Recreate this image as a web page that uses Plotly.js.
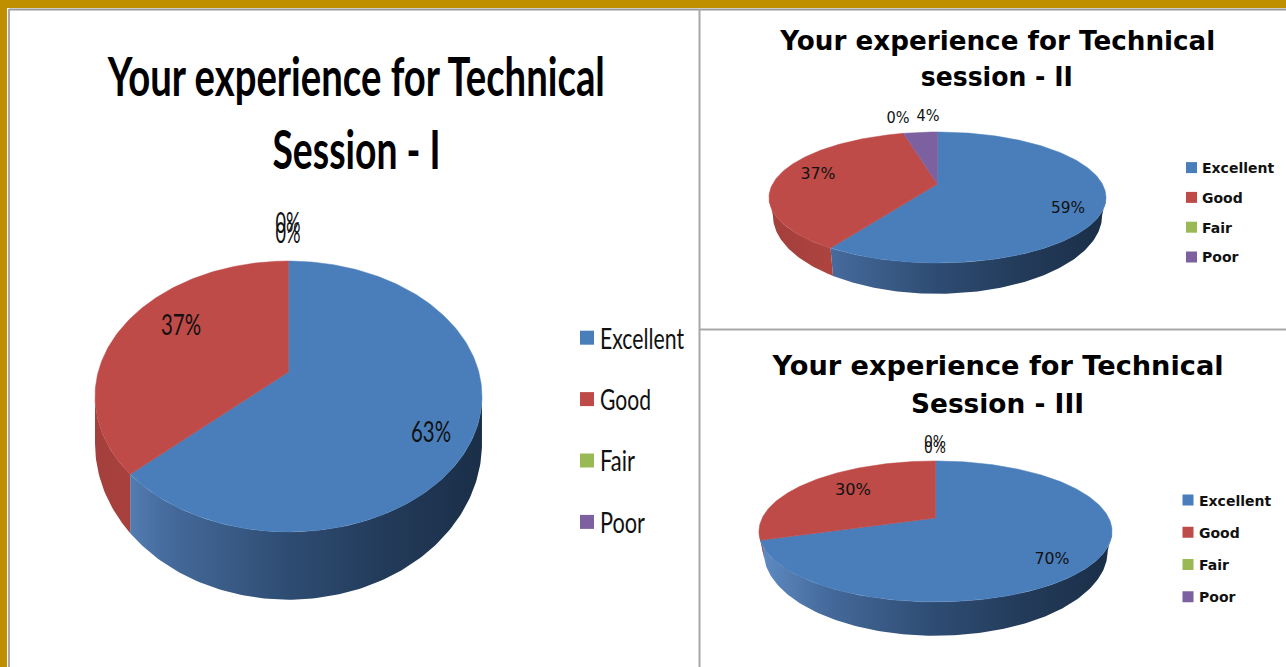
<!DOCTYPE html>
<html><head><meta charset="utf-8">
<script src="https://cdn.plot.ly/plotly-3.0.1.min.js"></script>
<style>html,body{margin:0;padding:0;background:#BF8F00;overflow:hidden}#chart{width:1286px;height:667px}</style>
</head><body><div id="chart"></div>
<script>
// ---- data ----
const categories = ["Excellent", "Good", "Fair", "Poor"];
const valuesSessionI = [63, 37, 0, 0];
const valuesSessionII = [59, 37, 0, 4];
const valuesSessionIII = [70, 30, 0, 0];
const titleSessionI = ["Your experience for Technical", "Session - I"];
const titleSessionII = ["Your experience for Technical", "session - II"];
const titleSessionIII = ["Your experience for Technical", "Session - III"];

// ---- styles and layout ----
const W = 1286, H = 667;
const sliceColors = ["#4A7EBB", "#BE4B48", "#98B954", "#7D60A0"];
const wallScales = [
  [[0, "#5F8CC4"], [0.2, "#44699A"], [0.5, "#2E4C72"], [0.75, "#233B5A"], [1, "#1A2E47"]],
  [[0, "#A33F3C"], [0.2, "#AE4440"], [1, "#8E3734"]],
  [[0, "#7D9A45"], [1, "#5B7030"]],
  [[0, "#6A5086"], [1, "#4A3860"]]
];
const NARROW = "Lato,'Liberation Sans',sans-serif";
const WIDE = "'DejaVu Sans',Verdana,sans-serif";
const charts = [
  { values: valuesSessionI, title: titleSessionI,
    panel: [9, 698, 10, 667], cx: 288.5, cy: 372, A: 131, B: 190.3, k: 0.1807, sx: 1.0, sy: 1.155, d: 43,
    labelPx: [[431, 435], [181, 328], [288, 226], [288, 236]], labelFont: {family: NARROW, size: 28, color: "#111"},
    labelWidths: [40, 40, 25, 25],
    titleX: 356, titleY: [75, 148], titleFont: {family: NARROW, size: 53, color: "#000"}, titleWidths: [497, 168],
    legendX: 560, legendY: 313, legendFont: {family: NARROW, size: 28, color: "#111"}, legendGap: 22, markerSize: 14,
    legendWidths: [84, 51, 35, 45], keyShift: 7 },
  { values: valuesSessionII, title: titleSessionII,
    panel: [701, 1286, 10, 328], cx: 937.5, cy: 184, A: 62.7, B: 164.9, k: 0.206, sx: 0.977, sy: 1.2, d: 15,
    labelPx: [[1068, 209], [818, 175], [898, 119], [928, 117]], labelFont: {family: WIDE, size: 16, color: "#111"},
    labelWidths: [34, 35, 23, 23],
    titleX: 997, titleY: [41, 77], titleFont: {family: WIDE, size: 26, color: "#000"}, titleWidths: [435, 152],
    legendX: 1162, legendY: 152, legendFont: {family: WIDE, size: 14, weight: 700, color: "#111"}, legendGap: 8.6, markerSize: 11,
    legendWidths: [74, 46, 32, 39], keyShift: 9.5 },
  { values: valuesSessionIII, title: titleSessionIII,
    panel: [701, 1286, 332, 667], cx: 935.5, cy: 518, A: 67.9, B: 173.3, k: 0.191, sx: 0.975, sy: 1.2, d: 17,
    labelPx: [[1052, 560], [853, 491], [935, 443], [935, 449]], labelFont: {family: WIDE, size: 16, color: "#111"},
    labelWidths: [35, 36, 22, 22],
    titleX: 997, titleY: [365, 403], titleFont: {family: WIDE, size: 27, color: "#000"}, titleWidths: [451, 173],
    legendX: 1159, legendY: 484.5, legendFont: {family: WIDE, size: 14, weight: 700, color: "#111"}, legendGap: 11, markerSize: 11,
    legendWidths: [76, 47, 32, 40], keyShift: 9 }
];

// ---- projection of a slice angle (degrees clockwise from 12 o'clock) ----
function rim(c, deg) {
  const t = deg * Math.PI / 180, den = 1 + c.k * Math.cos(t);
  return [c.B * Math.sin(t) / den, c.A * Math.cos(t) / den];
}
function rimBottom(c, deg) {
  const p = rim(c, deg);
  return [p[0] * c.sx, p[1] * c.sy - c.d];
}
function arc(fn, c, a0, a1) {
  const pts = [], n = Math.max(2, Math.ceil(Math.abs(a1 - a0)));
  for (let i = 0; i <= n; i++) pts.push(fn(c, a0 + (a1 - a0) * i / n));
  return pts;
}

const traces = [], layout = {
  width: W, height: H, margin: {l: 0, r: 0, t: 0, b: 0}, autosize: false,
  paper_bgcolor: "#BF8F00", plot_bgcolor: "rgba(0,0,0,0)", hovermode: false,
  annotations: [],
  shapes: [
    {type: "rect", xref: "paper", yref: "paper", x0: 7/W, x1: 1, y0: 0, y1: 1 - 8/H, fillcolor: "#FFFFFF", line: {width: 0}, layer: "below"},
    {type: "line", xref: "paper", yref: "paper", x0: 9/W, x1: 1, y0: 1 - 9.5/H, y1: 1 - 9.5/H, line: {color: "#9A9A9A", width: 2}, layer: "below"},
    {type: "line", xref: "paper", yref: "paper", x0: 9/W, x1: 9/W, y0: 0, y1: 1 - 9/H, line: {color: "#A8A8AC", width: 2}, layer: "below"},
    {type: "line", xref: "paper", yref: "paper", x0: 699.5/W, x1: 699.5/W, y0: 0, y1: 1 - 9/H, line: {color: "#A8A8A8", width: 2}, layer: "below"},
    {type: "line", xref: "paper", yref: "paper", x0: 699/W, x1: 1, y0: 1 - 329.5/H, y1: 1 - 329.5/H, line: {color: "#A8A8A8", width: 2}, layer: "below"}
  ]
};

charts.forEach((c, i) => {
  const sfx = i === 0 ? "" : String(i + 1);
  const xa = "x" + sfx, ya = "y" + sfx, leg = "legend" + sfx;
  const [pL, pR, pT, pB] = c.panel;
  layout["xaxis" + sfx] = {domain: [pL / W, pR / W], range: [pL - c.cx, pR - c.cx], visible: false, fixedrange: true, anchor: ya};
  layout["yaxis" + sfx] = {domain: [1 - pB / H, 1 - pT / H], range: [c.cy - pB, c.cy - pT], visible: false, fixedrange: true, anchor: xa};
  layout[leg] = {x: c.legendX / W, y: 1 - c.legendY / H, xanchor: "left", yanchor: "top", bgcolor: "rgba(0,0,0,0)",
    font: c.legendFont, tracegroupgap: c.legendGap, itemclick: false, itemdoubleclick: false, traceorder: "grouped", itemwidth: 30};

  // the visible wall runs between the two horizontal extremes of the rim
  const wall0 = Math.acos(-c.k) * 180 / Math.PI, wall1 = 360 - wall0;
  const total = c.values.reduce((a, b) => a + b, 0);
  const tops = [];
  let start = 0;
  c.values.forEach((v, j) => {
    const end = start + v / total * 360;
    if (v > 0) {
      const w0 = Math.max(start, wall0), w1 = Math.min(end, wall1);
      if (w1 > w0) {
        const pts = arc(rim, c, w0, w1).concat(arc(rimBottom, c, w1, w0));
        traces.push({type: "scatter", mode: "lines", xaxis: xa, yaxis: ya, showlegend: false, hoverinfo: "skip",
          x: pts.map(p => p[0]).concat(pts[0][0]), y: pts.map(p => p[1]).concat(pts[0][1]),
          fill: "toself", line: {width: 0, color: sliceColors[j]},
          fillgradient: {type: "horizontal", start: -c.B * 1.02, stop: c.B * 1.02, colorscale: wallScales[j]}});
      }
      const pts = [[0, 0]].concat(arc(rim, c, start, end), [[0, 0]]);
      tops.push({type: "scatter", mode: "lines", xaxis: xa, yaxis: ya, showlegend: false, hoverinfo: "skip",
        x: pts.map(p => p[0]), y: pts.map(p => p[1]), fill: "toself", fillcolor: sliceColors[j],
        line: {width: 0.5, color: sliceColors[j]}});
    }
    start = end;
  });
  tops.forEach(t => traces.push(t));

  // data labels
  traces.push({type: "scatter", mode: "text", xaxis: xa, yaxis: ya, showlegend: false, hoverinfo: "skip", cliponaxis: false,
    x: c.labelPx.map(p => p[0] - c.cx), y: c.labelPx.map(p => c.cy - p[1]),
    text: c.values.map(v => v + "%"), textposition: "middle center", textfont: c.labelFont});

  // legend keys
  categories.forEach((name, j) => {
    traces.push({type: "scatter", mode: "markers", xaxis: xa, yaxis: ya, legend: leg, legendgroup: "c" + i + "k" + j,
      name: name, showlegend: true, hoverinfo: "skip", x: [null], y: [null],
      marker: {symbol: "square", size: c.markerSize, color: sliceColors[j]}});
  });

  // title lines
  c.title.forEach((line, j) => layout.annotations.push({
    xref: "paper", yref: "paper", x: c.titleX / W, y: 1 - c.titleY[j] / H, xanchor: "center", yanchor: "middle",
    showarrow: false, text: "<b>" + line + "</b>", font: c.titleFont}));
});

// the reference's text is stretched sideways: fit each real text to its width
function fit(el, w) {
  if (!el) return;
  el.setAttribute("textLength", w);
  el.setAttribute("lengthAdjust", "spacingAndGlyphs");
}
function stretchTexts(gd) {
  const annos = gd.querySelectorAll(".annotation-text");
  const labels = gd.querySelectorAll(".textpoint text");
  let a = 0, l = 0;
  charts.forEach((c, i) => {
    c.titleWidths.forEach(w => fit(annos[a++], w));
    c.labelWidths.forEach(w => fit(labels[l++], w));
    const sel = i === 0 ? ".legend" : ".legend" + (i + 1);
    const box = gd.querySelector(sel);
    if (!box) return;
    box.querySelectorAll(".legendtext").forEach((t, j) => fit(t, c.legendWidths[j]));
    box.querySelectorAll(".legendpoints").forEach(p => p.setAttribute("transform", "translate(" + c.keyShift + ",0)"));
  });
}
Plotly.newPlot("chart", traces, layout, {displayModeBar: false, responsive: false}).then(stretchTexts);
</script></body></html>
